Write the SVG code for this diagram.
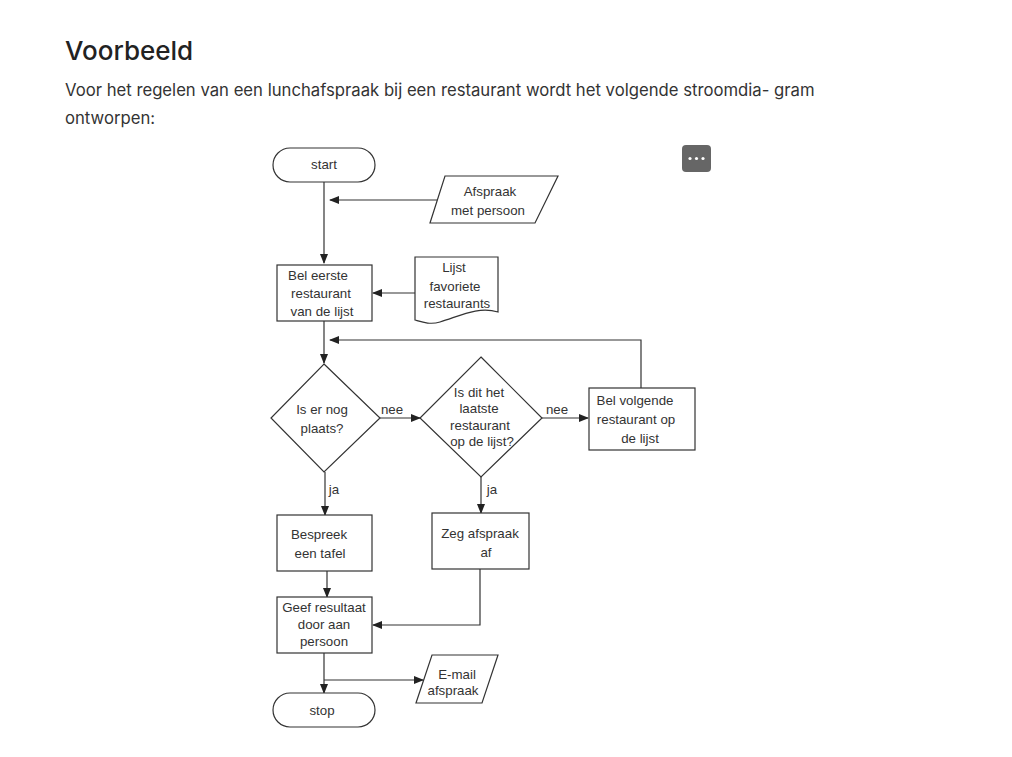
<svg xmlns="http://www.w3.org/2000/svg" width="1012" height="757" viewBox="0 0 1012 757">
<defs>
<marker id="ah" markerWidth="10" markerHeight="8" refX="9" refY="4" orient="auto" markerUnits="userSpaceOnUse">
<path d="M0,0 L10,4 L0,8 Z" fill="#222"/>
</marker>
<style>
.h{font-family:Inter,"Noto Sans",sans-serif;font-size:26px;font-weight:500;fill:#222}
.p{font-family:Inter,"Noto Sans",sans-serif;font-size:16.7px;fill:#333}
.s{fill:#fff;stroke:#333;stroke-width:1.2}
.t{font-family:"Liberation Sans",Arial,sans-serif;font-size:13.3px;fill:#333;text-anchor:middle}
.c{fill:none;stroke:#333;stroke-width:1.2}
</style>
</defs>
<rect width="1012" height="757" fill="#fff"/>
<text class="h" x="65" y="60">Voorbeeld</text>
<text class="p" x="65" y="96">Voor het regelen van een lunchafspraak bij een restaurant wordt het volgende stroomdia- gram</text>
<text class="p" x="65" y="124">ontworpen:</text>
<g id="menu">
<rect x="682" y="145" width="29" height="27" rx="4" fill="#666"/>
<circle cx="690" cy="158.5" r="1.6" fill="#fff"/><circle cx="696.5" cy="158.5" r="1.6" fill="#fff"/><circle cx="703" cy="158.5" r="1.6" fill="#fff"/>
</g>
<g id="connectors">
<path class="c" d="M324,182 V263" marker-end="url(#ah)"/>
<path class="c" d="M438,200 H330" marker-end="url(#ah)"/>
<path class="c" d="M415,293 H373" marker-end="url(#ah)"/>
<path class="c" d="M324,321 V363" marker-end="url(#ah)"/>
<path class="c" d="M641,388 V340 H330" marker-end="url(#ah)"/>
<path class="c" d="M380,418 H420" marker-end="url(#ah)"/>
<path class="c" d="M542,418 H588" marker-end="url(#ah)"/>
<path class="c" d="M325,472 V515" marker-end="url(#ah)"/>
<path class="c" d="M481,477 V513" marker-end="url(#ah)"/>
<path class="c" d="M327,571 V597" marker-end="url(#ah)"/>
<path class="c" d="M480,569 V625 H373" marker-end="url(#ah)"/>
<path class="c" d="M324,653 V693" marker-end="url(#ah)"/>
<path class="c" d="M324,680 H423" marker-end="url(#ah)"/>
<text class="t" x="392" y="414">nee</text>
<text class="t" x="557" y="414">nee</text>
<text class="t" x="334" y="494">ja</text>
<text class="t" x="492" y="494">ja</text>
</g>
<g id="start">
<rect class="s" x="273" y="148" width="102" height="34" rx="17"/>
<text class="t" x="324" y="169">start</text>
</g>
<g id="afspraak">
<polygon class="s" points="445,176 558,176 535,223 430,223"/>
<text class="t" x="490" y="196">Afspraak</text>
<text class="t" x="488" y="215">met persoon</text>
</g>
<g id="bel-eerste">
<rect class="s" x="277" y="265" width="95" height="56"/>
<text class="t" x="318" y="280">Bel eerste</text>
<text class="t" x="321" y="298">restaurant</text>
<text class="t" x="322" y="316">van de lijst</text>
</g>
<g id="lijst">
<path class="s" d="M415,257 H498 V312 C478,306 460,316 440,322 C430,325 422,322 415,320 Z"/>
<text class="t" x="454" y="272">Lijst</text>
<text class="t" x="455" y="291">favoriete</text>
<text class="t" x="457" y="308">restaurants</text>
</g>
<g id="plaats">
<polygon class="s" points="324,364 380,418 324,472 271,418"/>
<text class="t" x="322" y="414">Is er nog</text>
<text class="t" x="322" y="433">plaats?</text>
</g>
<g id="laatste">
<polygon class="s" points="481,357 542,418 481,477 420,418"/>
<text class="t" x="479" y="397">Is dit het</text>
<text class="t" x="479" y="413">laatste</text>
<text class="t" x="480" y="430">restaurant</text>
<text class="t" x="482" y="446">op de lijst?</text>
</g>
<g id="bel-volgende">
<rect class="s" x="589" y="388" width="106" height="62"/>
<text class="t" x="635" y="405">Bel volgende</text>
<text class="t" x="636" y="424">restaurant op</text>
<text class="t" x="640" y="443">de lijst</text>
</g>
<g id="bespreek">
<rect class="s" x="277" y="515" width="95" height="56"/>
<text class="t" x="319" y="539">Bespreek</text>
<text class="t" x="320" y="558">een tafel</text>
</g>
<g id="zeg">
<rect class="s" x="432" y="513" width="97" height="56"/>
<text class="t" x="480" y="538">Zeg afspraak</text>
<text class="t" x="486" y="557">af</text>
</g>
<g id="geef">
<rect class="s" x="277" y="597" width="95" height="56"/>
<text class="t" x="324" y="612">Geef resultaat</text>
<text class="t" x="324" y="629">door aan</text>
<text class="t" x="324" y="646">persoon</text>
</g>
<g id="email">
<polygon class="s" points="432,655 498,655 482,703 416,703"/>
<text class="t" x="457" y="679">E-mail</text>
<text class="t" x="453" y="695">afspraak</text>
</g>
<g id="stop">
<rect class="s" x="273" y="693" width="102" height="34" rx="17"/>
<text class="t" x="322" y="715">stop</text>
</g>
</svg>
